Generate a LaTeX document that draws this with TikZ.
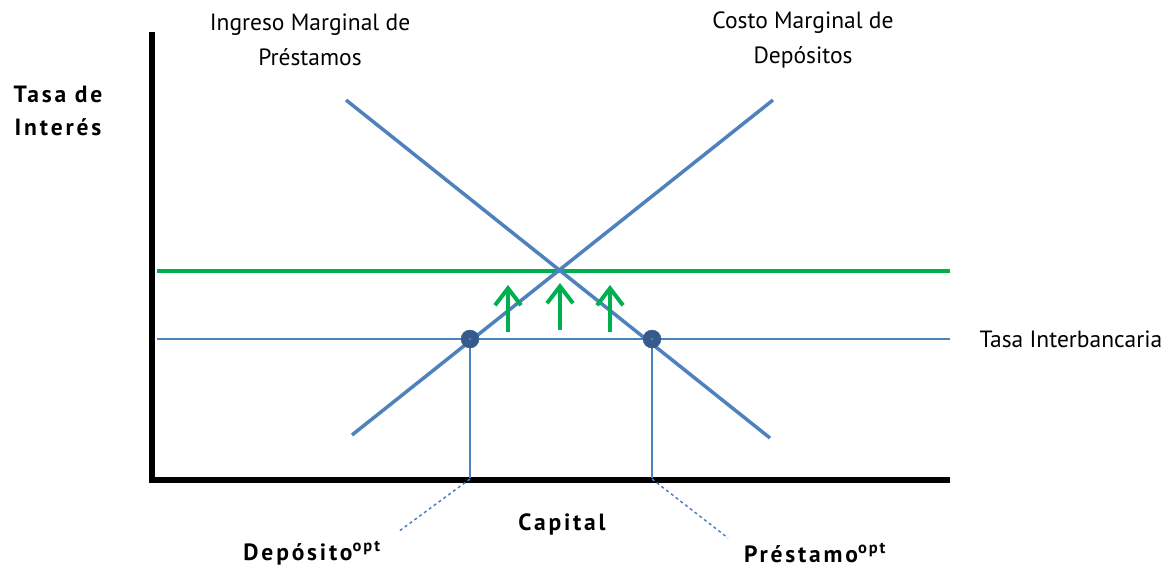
\documentclass[tikz,border=0pt]{standalone}
\usepackage{fontspec}
\setmainfont{PT Sans}
\newfontfamily\widebold[LetterSpace=12,BoldFont={* Bold}]{PT Sans}
\usetikzlibrary{arrows.meta}
\definecolor{tasablue}{RGB}{79,129,189}
\definecolor{dotblue}{RGB}{54,90,140}
\definecolor{tasagreen}{RGB}{0,176,80}
\begin{document}
\begin{tikzpicture}[x=1pt,y=-1pt,font=\fontsize{23.5}{35}\selectfont,
  curve/.style={tasablue,line width=3.5pt},
  thin/.style={tasablue,line width=2pt},
  axis/.style={black,line width=6pt},
  up/.style={tasagreen,line width=4pt,-{Straight Barb[length=17pt,width=26pt]}},
  boldlab/.style={font=\fontsize{23.5}{33}\selectfont\widebold\bfseries}]
\useasboundingbox (0,0) rectangle (1168,568);
% axes
\coordinate (o) at (152,480);
\draw[axis] (152,32) -- (o) -- (950,480);
% rates
\draw[tasagreen,line width=4pt] (157,271) -- (950,271);
\draw[thin] (157,339) -- (950,339);
% curves
\coordinate (im1) at (346,100);
\coordinate (im2) at (770,438);
\coordinate (cm1) at (352,435);
\coordinate (cm2) at (773,100);
\draw[curve] (im1) -- (im2);
\draw[curve] (cm1) -- (cm2);
% optimum points
\coordinate (dep) at (470,339);
\coordinate (pre) at (652,339);
\draw[thin] (dep) -- (470,478);
\draw[thin] (pre) -- (652,478);
\draw[thin,dashed,line width=1.5pt] (470,479) -- (398,532);
\draw[thin,dashed,line width=1.5pt] (652,479) -- (728,538);
\filldraw[fill=dotblue,draw=dotblue] (dep) circle (9pt);
\filldraw[fill=dotblue,draw=dotblue] (pre) circle (9pt);
\fill[tasablue] (dep) circle (1.5pt);
\fill[tasablue] (pre) circle (1.5pt);
% arrows
\draw[up] (508,332) -- (508,285);
\draw[up] (560,330) -- (560,283);
\draw[up] (610,332) -- (610,285);
% labels
\node[align=center] (imlab) at (310,40) {Ingreso Marginal de\\Préstamos};
\node[align=center] (cmlab) at (803,40) {Costo Marginal de\\Depósitos};
\node[align=center,boldlab] (ylab) at (58,111) {Tasa de\\Interés};
\node[anchor=west] (tilab) at (976,339) {Tasa Interbancaria};
\node[boldlab] (xlab) at (562,524) {Capital};
\node[boldlab] (deplab) at (312,553) {Depósito\textsuperscript{opt}};
\node[boldlab] (prelab) at (815,553) {Préstamo\textsuperscript{opt}};
\end{tikzpicture}
\end{document}
